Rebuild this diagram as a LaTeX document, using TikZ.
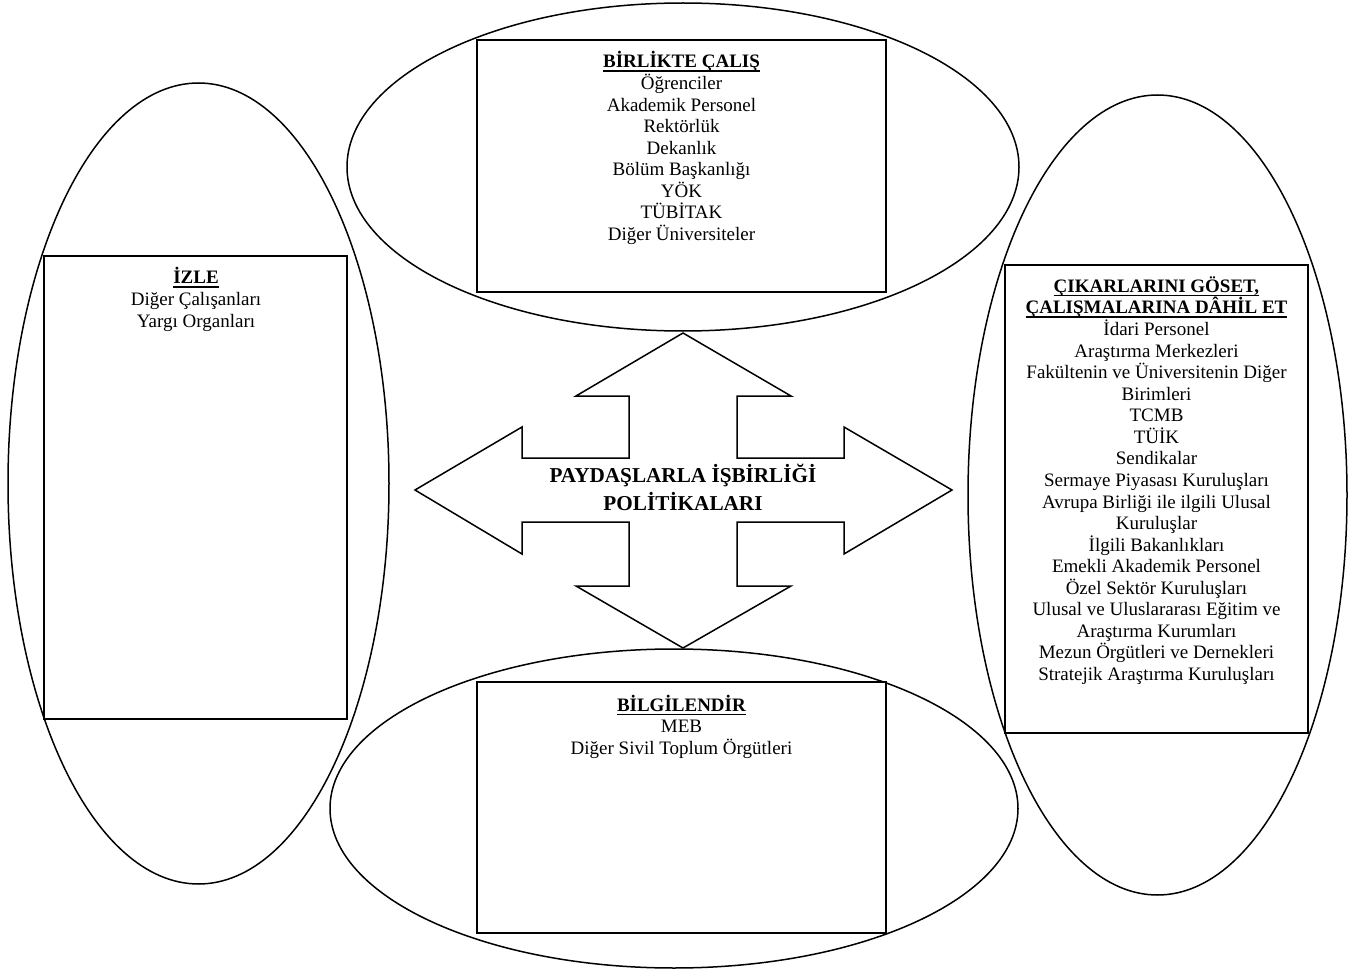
\documentclass[tikz,border=0pt]{standalone}
\usepackage{fontspec}
\setmainfont{Liberation Serif}
\lineskiplimit=-20pt\relax
\tikzset{
  shp/.style={draw=black, line width=0.75pt},
  boxshape/.style={draw=black, line width=0.8pt, fill=white},
  txt/.style={align=center, inner sep=0pt, anchor=north,
    font=\fontsize{9.5}{10.78}\selectfont},
  ctxt/.style={align=center, inner sep=0pt, anchor=north,
    font=\fontsize{10.6}{14}\selectfont\bfseries},
}
\newsavebox{\ulbox}
\newcommand{\myul}[1]{\sbox{\ulbox}{#1}\rlap{\rule[-1.9pt]{\wd\ulbox}{0.7pt}}\usebox{\ulbox}}
\newcommand{\ttl}[1]{\rule{0pt}{9pt}\myul{\textbf{#1}}}
\begin{document}
\begin{tikzpicture}[x=0.5pt,y=-0.5pt]
\useasboundingbox (0,0) rectangle (1362,974);
% ellipses
\draw[shp] (683,167) ellipse [x radius=336, y radius=164];
\draw[shp] (198.5,483.5) ellipse [x radius=190.5, y radius=400.5];
\draw[shp] (1157.5,495) ellipse [x radius=189.5, y radius=400];
\draw[shp] (674,808.5) ellipse [x radius=344, y radius=159.5];
% boxes
\draw[boxshape] (477,40) rectangle (886,292);
\draw[boxshape] (44,256) rectangle (347,719);
\draw[boxshape] (1005,265) rectangle (1308,733);
\draw[boxshape] (477,682) rectangle (886,933);
% four-way arrow
\draw[shp, fill=white, line join=miter]
  (683,333) -- (791,396) -- (737,396) -- (737,458) -- (844,458) -- (844,427)
  -- (952,490) -- (844,554) -- (844,522) -- (737,522) -- (737,586) -- (791,586)
  -- (683,648) -- (576,586) -- (629,586) -- (629,522) -- (522,522) -- (522,554)
  -- (415,490) -- (522,427) -- (522,458) -- (629,458) -- (629,396) -- (576,396)
  -- cycle;
% texts
\node[txt] (tTop) at (681.5,49.5) {\ttl{BİRLİKTE ÇALIŞ}\\Öğrenciler\\Akademik Personel\\Rektörlük\\Dekanlık\\Bölüm Başkanlığı\\YÖK\\TÜBİTAK\\Diğer Üniversiteler};
\node[txt] (tLeft) at (196,265.5) {\ttl{İZLE}\\Diğer Çalışanları\\Yargı Organları};
\node[txt] (tRight) at (1156.5,274) {\ttl{ÇIKARLARINI GÖSET,}\\\myul{\textbf{ÇALIŞMALARINA DÂHİL ET}}\\İdari Personel\\Araştırma Merkezleri\\Fakültenin ve Üniversitenin Diğer\\Birimleri\\TCMB\\TÜİK\\Sendikalar\\Sermaye Piyasası Kuruluşları\\Avrupa Birliği ile ilgili Ulusal\\Kuruluşlar\\İlgili Bakanlıkları\\Emekli Akademik Personel\\Özel Sektör Kuruluşları\\Ulusal ve Uluslararası Eğitim ve\\Araştırma Kurumları\\Mezun Örgütleri ve Dernekleri\\Stratejik Araştırma Kuruluşları};
\node[txt] (tBot) at (681.5,693) {\ttl{BİLGİLENDİR}\\MEB\\Diğer Sivil Toplum Örgütleri};
\node[ctxt] (tCenter) at (683,462) {\rule{0pt}{10pt}PAYDAŞLARLA İŞBİRLİĞİ\\POLİTİKALARI};
\end{tikzpicture}
\end{document}
